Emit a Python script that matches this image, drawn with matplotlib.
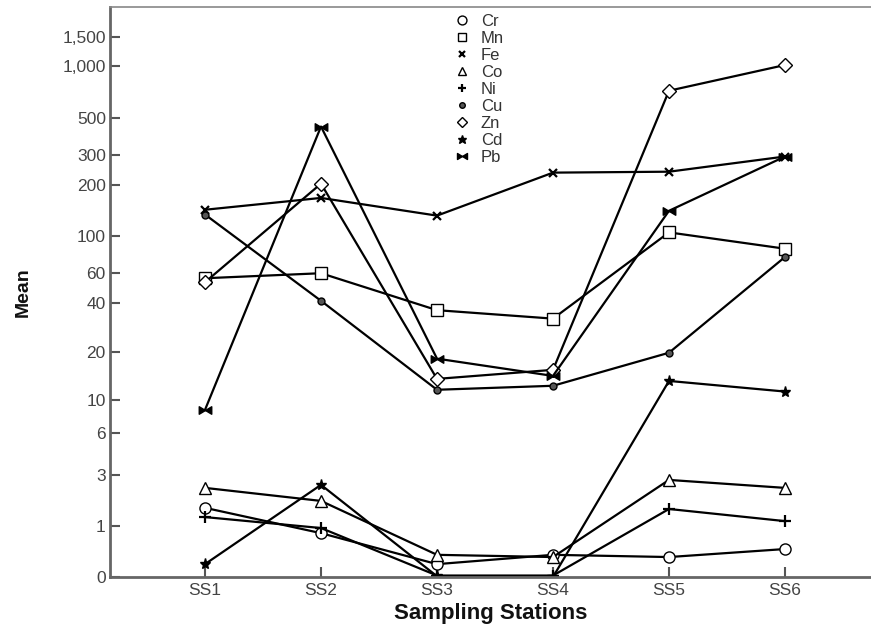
import numpy as np
import matplotlib
matplotlib.use("Agg")
import matplotlib.pyplot as plt
from matplotlib.path import Path
from matplotlib.lines import Line2D

plt.rcParams['font.family'] = ['Liberation Sans', 'DejaVu Sans']

stations = ["SS1", "SS2", "SS3", "SS4", "SS5", "SS6"]
Cr = [1.55, 0.81, 0.19, 0.35, 0.31, 0.46]
Mn = [56, 60, 36, 32, 105, 84]
Fe = [143, 168, 132, 237, 240, 295]
Co = [2.34, 1.8, 0.35, 0.31, 2.72, 2.34]
Ni = [1.25, 0.94, 0.02, 0.02, 1.51, 1.13]
Cu = [134, 41, 11.6, 12.3, 19.8, 75]
Zn = [53, 204, 13.6, 15.5, 720, 1020]
Cd = [0.19, 2.48, 0.01, 0.0, 13.2, 11.3]
Pb = [8.6, 443, 18.2, 14.2, 141, 295]

yticks = [0, 1, 3, 6, 10, 20, 40, 60, 100, 200, 300, 500, 1000, 1500]
ytick_labels = ["0", "1", "3", "6", "10", "20", "40", "60", "100", "200", "300", "500", "1,000", "1,500"]

bowtie = Path([(-1, -0.6), (-1, 0.6), (0, 0), (1, 0.6), (1, -0.6), (0, 0), (-1, -0.6)],
              [Path.MOVETO, Path.LINETO, Path.LINETO, Path.LINETO, Path.LINETO, Path.LINETO, Path.CLOSEPOLY])

series = [
    ("Cr", Cr, dict(marker='o', ms=8, mfc='white')),
    ("Mn", Mn, dict(marker='s', ms=8, mfc='white')),
    ("Fe", Fe, dict(marker='x', ms=6, mew=1.6)),
    ("Co", Co, dict(marker='^', ms=8, mfc='white')),
    ("Ni", Ni, dict(marker='+', ms=8, mew=1.6)),
    ("Cu", Cu, dict(marker='o', ms=5, mfc='#555555')),
    ("Zn", Zn, dict(marker='D', ms=7, mfc='white')),
    ("Cd", Cd, dict(marker='*', ms=8, mfc='black')),
    ("Pb", Pb, dict(marker=bowtie, ms=9, mfc='black')),
]

fig = plt.figure(figsize=(8.71, 6.3), dpi=100)
ax = fig.add_axes([110/871, 53/630, (871-110)/871, 570/630])

fwd = lambda v: np.log10(np.maximum(v, -0.999) + 1)
inv = lambda t: 10**t - 1
ax.set_yscale('function', functions=(fwd, inv))

x = np.arange(1, len(stations) + 1)
for name, vals, kw in series:
    ax.plot(x, vals, color='black', lw=1.6, mec='black', label=name, **kw)

ax.set_xlim(1 - 95/116, 1 + (871 - 110 - 95)/116)
ax.set_ylim(0, 10**3.35 - 1)
ax.set_xticks(x)
ax.set_xticklabels(stations)
ax.set_yticks(yticks)
ax.set_yticklabels(ytick_labels)
ax.minorticks_off()
ax.tick_params(direction='in', length=7, width=1.5, color='#555555', labelcolor='#444444', labelsize=12.5)
ax.tick_params(axis='x', pad=4)
ax.tick_params(axis='y', pad=3)
for s in ['left', 'bottom', 'top']:
    ax.spines[s].set_color('#666666')
    ax.spines[s].set_linewidth(2)
ax.spines['top'].set_linewidth(1.2)
ax.spines['top'].set_color('#888888')
ax.spines['right'].set_visible(False)

ax.set_xlabel("Sampling Stations", fontsize=16, fontweight='bold', color='#111111', labelpad=4)
ax.set_ylabel("Mean", fontsize=14, fontweight='bold', color='#111111', labelpad=22)

labels = [s[0] for s in series]
leg_handles = [Line2D([], [], color='black', lw=0, mec='black', **dict(kw, ms=kw['ms'] * 0.8))
               for name, vals, kw in series]
ax.legend(leg_handles, labels, loc='upper left', bbox_to_anchor=(445/871, 1 - 7/630),
          bbox_transform=fig.transFigure, frameon=False, fontsize=12,
          handlelength=1.2, handletextpad=0.55, labelspacing=0.12, borderaxespad=0,
          labelcolor='#333333')

fig.savefig("out.png", dpi=100)
